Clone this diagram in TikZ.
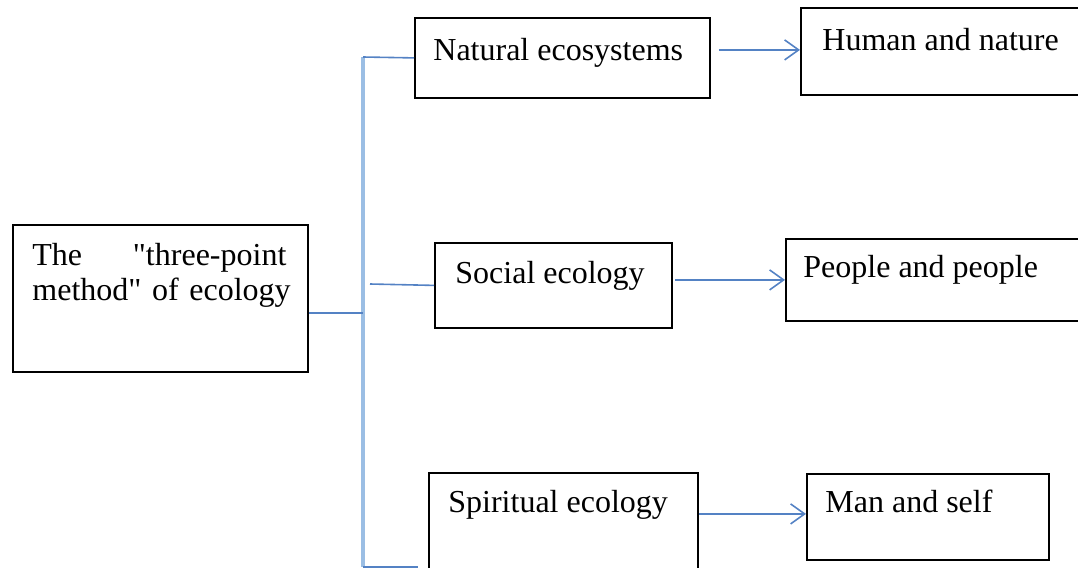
\documentclass[tikz,border=0pt]{standalone}
\usepackage{fontspec}
\setmainfont{Liberation Serif}[Ligatures=TeXOff]
\usetikzlibrary{arrows.meta}
\definecolor{trunkblue}{RGB}{155,190,228}
\definecolor{linkblue}{RGB}{84,130,196}
\begin{document}
\begin{tikzpicture}[x=0.5pt, y=-0.5pt,
  box/.style={draw, line width=0.9pt, anchor=north west, inner sep=0pt},
  txt/.style={anchor=base west, inner sep=0pt, font=\fontsize{16}{17.5}\selectfont},
  trunk/.style={draw=trunkblue, line width=1.7pt},
  link/.style={draw=linkblue, line width=0.8pt},
  arr/.style={link, -{Straight Barb[length=7pt, width=10pt, line width=0.8pt]}}]
\useasboundingbox (0,0) rectangle (1078,568);
% boxes
\node[box, minimum width=147.5pt, minimum height=73.5pt] (main) at (12,224){};
\node[box, minimum width=147.5pt, minimum height=40pt] (nat) at (414,17){};
\node[box, minimum width=145pt, minimum height=43.5pt] (hum) at (800,7){};
\node[box, minimum width=118.5pt, minimum height=42.5pt] (soc) at (434,242){};
\node[box, minimum width=155pt, minimum height=41pt] (peo) at (785,238){};
\node[box, minimum width=134.5pt, minimum height=60pt] (spi) at (428,472){};
\node[box, minimum width=121pt, minimum height=43pt] (man) at (806,473){};
% texts
\node[txt, text width=130pt, align=left] (tmain) at (32,265){\mbox{}\makebox[127pt][s]{The\hfill"three-point}\\ \mbox{method" of ecology}};
\node[txt] (tnat) at (433,60){Natural ecosystems};
\node[txt] (thum) at (822,50){Human and nature};
\node[txt] (tsoc) at (455,283){Social ecology};
\node[txt] (tpeo) at (803,277){People and people};
\node[txt] (tspi) at (448,512){Spiritual ecology};
\node[txt] (tman) at (825,512){Man and self};
% connectors
\coordinate (ttop) at (363,57);
\coordinate (tbot) at (363,567);
\coordinate (mjoin) at (363,313);
\coordinate (sjoin) at (370,284);
\coordinate (bend) at (418,567);
\draw[trunk] (ttop) -- (tbot);
\draw[link] (ttop) -- (nat.west);
\draw[link] (main.east |- mjoin) -- (mjoin);
\draw[link] (sjoin) -- (soc.west);
\draw[link] (tbot) -- (bend);
\draw[arr] ([xshift=4pt, yshift=0.75pt]nat.east |- hum.west) -- ([yshift=0.75pt]hum.west);
\draw[arr] ([xshift=1pt]soc.east |- peo.west) -- (peo.west);
\draw[arr] ([yshift=1.5pt]spi.east |- man.west) -- ([yshift=1.5pt]man.west);
\end{tikzpicture}
\end{document}
